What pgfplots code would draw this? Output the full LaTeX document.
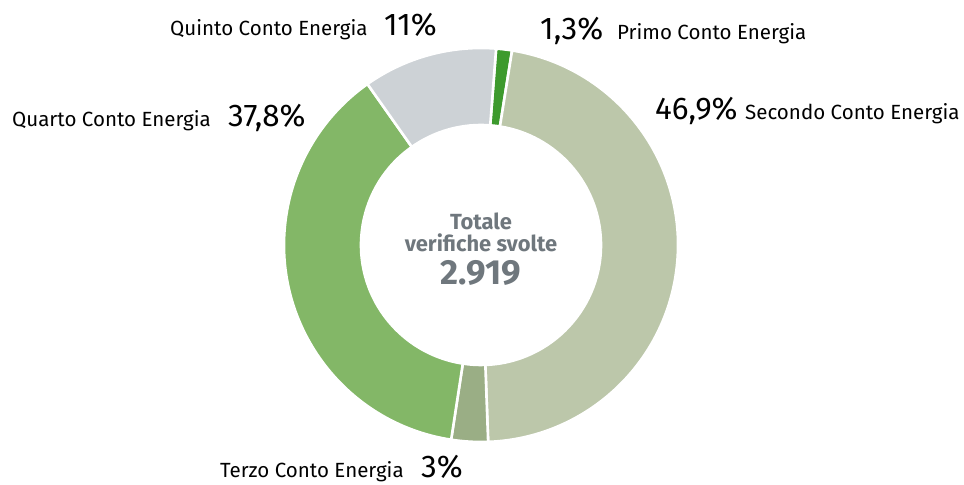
\documentclass[border=0pt]{standalone}
\usepackage{pgfplots}
\pgfplotsset{compat=1.18}
\usepackage{fontspec}
\setmainfont{Fira Sans}
\definecolor{cPrimo}{HTML}{3D9A2D}
\definecolor{cSecondo}{HTML}{BCC7AA}
\definecolor{cTerzo}{HTML}{9AAE85}
\definecolor{cQuarto}{HTML}{83B767}
\definecolor{cQuinto}{HTML}{CDD2D6}
\definecolor{cText}{HTML}{6F777D}
\newcommand{\lab}{\fontsize{20.6}{22}\selectfont}
\newcommand{\pct}{\fontsize{31.5}{33}\selectfont}
\begin{document}
\begin{tikzpicture}
\begin{axis}[
  hide axis, scale only axis, clip=false,
  x=1bp, y=1bp,
  xmin=-481, xmax=483, ymin=-240, ymax=245,
]
\path (axis cs:-481,-240) rectangle (axis cs:483,245);
% donut: percentages, clockwise from 85.6 degrees
\foreach \p/\c [remember=\e as \s (initially 85.6)] in {1.3/cPrimo, 46.9/cSecondo, 3/cTerzo, 37.8/cQuarto, 11/cQuinto} {
  \pgfmathsetmacro\e{\s-\p*3.6}
  \pgfmathsetmacro\xa{197*cos(\s)}\pgfmathsetmacro\ya{197*sin(\s)}
  \pgfmathsetmacro\xb{120*cos(\e)}\pgfmathsetmacro\yb{120*sin(\e)}
  \edef\temp{\noexpand\path[fill=\c, draw=white, line width=2.6bp]
    (axis cs:\xa,\ya) arc[start angle=\s, end angle=\e, radius=197bp]
    -- (axis cs:\xb,\yb) arc[start angle=\e, end angle=\s, radius=120bp] -- cycle;}
  \temp
}
% labels (image px -> axis: x-481, 245-y)
\node[anchor=base west, inner sep=0] at (axis cs:{170-481},{245-36}) {\lab Quinto Conto Energia};
\node[anchor=base west, inner sep=0] at (axis cs:{384-481},{245-36}) {\pct 11\%};
\node[anchor=base west, inner sep=0] at (axis cs:{540-481},{245-40}) {\pct 1,3\%};
\node[anchor=base west, inner sep=0] at (axis cs:{617-481},{245-40}) {\lab Primo Conto Energia};
\node[anchor=base west, inner sep=0] at (axis cs:{655-481},{245-120}) {\pct 46,9\%};
\node[anchor=base west, inner sep=0] at (axis cs:{745-481},{245-120}) {\lab Secondo Conto Energia};
\node[anchor=base west, inner sep=0] at (axis cs:{12-481},{245-127}) {\lab Quarto Conto Energia};
\node[anchor=base west, inner sep=0] at (axis cs:{228-481},{245-127}) {\pct 37,8\%};
\node[anchor=base west, inner sep=0] at (axis cs:{220-481},{245-478}) {\lab Terzo Conto Energia};
\node[anchor=base west, inner sep=0] at (axis cs:{421-481},{245-478}) {\pct 3\%};
% centre
\node[anchor=base, inner sep=0, text=cText] at (axis cs:0,{245-230}) {\fontsize{22}{24}\selectfont\bfseries Totale};
\node[anchor=base, inner sep=0, text=cText] at (axis cs:0,{245-252}) {\fontsize{22}{24}\selectfont\bfseries verifiche svolte};
\node[anchor=base, inner sep=0, text=cText] at (axis cs:0,{245-285}) {\fontsize{35}{36}\selectfont\bfseries 2.919};
\end{axis}
\end{tikzpicture}
\end{document}
